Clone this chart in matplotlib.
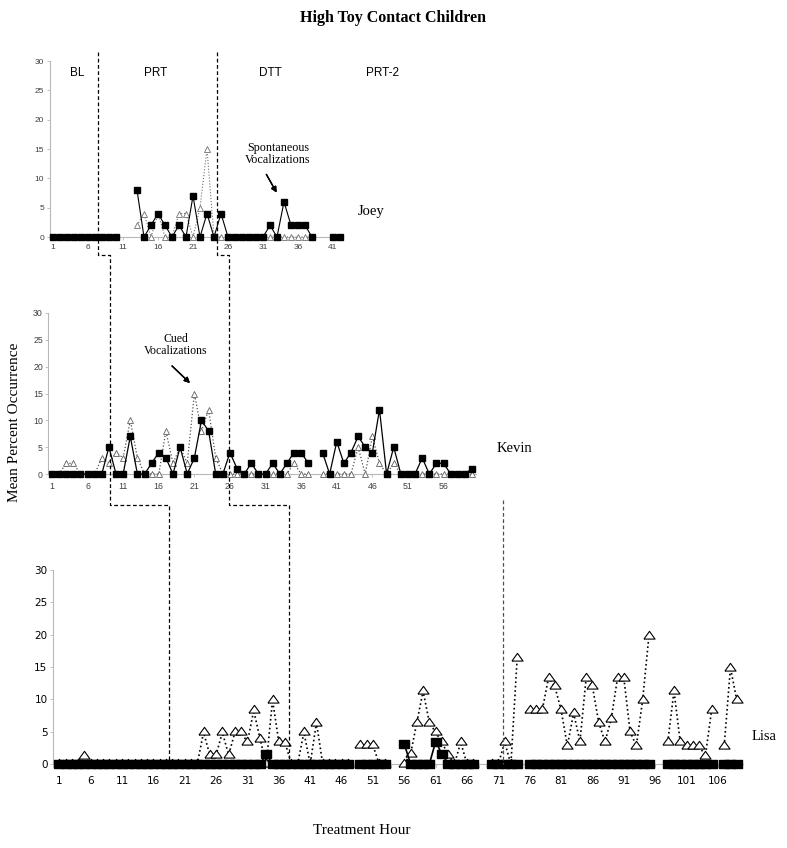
import numpy as np
import matplotlib.pyplot as plt
from matplotlib.lines import Line2D

nan = np.nan
W, H = 787, 848

# Joey (hours 1-42)
joey_hours = np.arange(1, 43)
joey_spont = [0, 0, 0, 0, 0, 0, 0, 0, 0, 0,
              nan, nan, 8, 0, 2, 4, 2, 0, 2, 0,
              7, 0, 4, 0, 4, 0, 0, 0, 0, 0,
              0, 2, 0, 6, 2, 2, 2, 0, nan, nan,
              0, 0]
joey_cued = [0, 0, 0, 0, 0, 0, 0, 0, 0, 0,
             nan, nan, 2, 4, 0, 4, 0, 0, 4, 4,
             0, 5, 15, 0, 0, 0, 0, 0, 0, 0,
             0, 0, 0, 0, 0, 0, 0, 0, nan, nan,
             0, 0]

# Kevin (hours 1-60)
kevin_hours = np.arange(1, 61)
kevin_spont = [0, 0, 0, 0, 0, 0, 0, 0, 5, 0,
               0, 7, 0, 0, 2, 4, 3, 0, 5, 0,
               3, 10, 8, 0, 0, 4, 1, 0, 2, 0,
               0, 2, 0, 2, 4, 4, 2, nan, 4, 0,
               6, 2, 4, 7, 5, 4, 12, 0, 5, 0,
               0, 0, 3, 0, 2, 2, 0, 0, 0, 1]
kevin_cued = [0, 0, 2, 2, 0, 0, 0, 3, 2, 4,
              3, 10, 3, 0, 0, 0, 8, 2, 5, 2,
              15, 8, 12, 3, 0, 0, 0, 0, 0, 0,
              0, 0, 0, 0, 2, 0, 0, nan, 0, 0,
              0, 0, 0, 5, 0, 7, 2, 0, 2, 0,
              0, 0, 0, 0, 0, 0, 0, 0, 0, 0]

# Lisa (hours 1-109)
lisa_hours = np.arange(1, 110)
lisa_spont = [0, 0, 0, 0, 0, 0, 0, 0, 0, 0,
              0, 0, 0, 0, 0, 0, 0, 0, 0, 0,
              0, 0, 0, 0, 0, 0, 0, 0, 0, 0,
              0, 0, 0, 1.5, 0, 0, 0, 0, 0, 0,
              0, 0, 0, 0, 0, 0, 0, nan, 0, 0,
              0, 0, 0, nan, nan, 3.1, 0, 0, 0, 0,
              3.45, 1.55, 0, 0, 0, 0, 0, nan, nan, 0,
              0, 0, 0, 0, nan, 0, 0, 0, 0, 0,
              0, 0, 0, 0, 0, 0, 0, 0, 0, 0,
              0, 0, 0, 0, 0, nan, nan, 0, 0, 0,
              0, 0, 0, 0, 0, nan, 0, 0, 0]
lisa_cued = [0, 0, 0, 0, 1.3, 0, 0, 0, 0, 0,
             0, 0, 0, 0, 0, 0, 0, 0, 0, 0,
             0, 0, 0, 4.9, 1.4, 1.4, 4.9, 1.4, 4.9, 4.9,
             3.35, 8.3, 3.9, 0, 9.9, 3.4, 3.3, 0, 0, 4.9,
             0, 6.4, 0, 0, 0, 0, 0, nan, 2.9, 2.9,
             2.9, 0, 0, nan, nan, 0, 1.5, 6.4, 11.3, 6.4,
             4.9, 3.35, 1.4, 0, 3.35, 0, 0, nan, nan, 0,
             0, 3.35, 0, 16.4, nan, 8.35, 8.35, 8.35, 13.35, 12,
             8.35, 2.8, 7.9, 3.45, 13.35, 12, 6.4, 3.45, 7, 13.35,
             13.35, 5, 2.8, 9.9, 19.8, nan, nan, 3.35, 11.3, 3.35,
             2.8, 2.8, 2.8, 1.25, 8.35, nan, 2.8, 14.9, 9.9]

# phase change hours for each child
joey_phase = [7.5, 24.5]
kevin_phase = [9.2, 25.9]
lisa_phase = [18.5, 37.6, 71.7]

phase_labels = ['BL', 'PRT', 'DTT', 'PRT-2']
phase_label_x = [4.4, 15.6, 32.1, 48.1]

SERIF = 'Liberation Serif'
SANS = 'Liberation Sans'


def px_axes(fig, left, right, y0, y30):
    return fig.add_axes([left / W, 1 - y0 / H, (right - left) / W, (y0 - y30) / H])


def style_axes(ax, xlim, xticks, fsize, fam, tcol, xpad):
    ax.set_xlim(*xlim)
    ax.set_ylim(0, 30)
    ax.set_yticks(range(0, 31, 5))
    ax.set_xticks(xticks)
    for s in ['top', 'right']:
        ax.spines[s].set_visible(False)
    for s in ['left', 'bottom']:
        ax.spines[s].set_color('#b8b8b8')
        ax.spines[s].set_linewidth(0.8)
    ax.tick_params(axis='y', length=2.5, width=0.6, color='#b8b8b8', pad=1.5)
    ax.tick_params(axis='x', length=2, width=0.6, color='#b8b8b8', pad=xpad)
    for lab in ax.get_xticklabels() + ax.get_yticklabels():
        lab.set_fontsize(fsize)
        lab.set_family(fam)
        lab.set_color(tcol)
    ax.patch.set_alpha(0)


fig = plt.figure(figsize=(W / 100, H / 100), dpi=100)

# ---- Joey
ax_j = px_axes(fig, 49.5, 343.5, 237, 61)
ax_j.plot(joey_hours, joey_cued, ls=':', color='#707070', lw=0.8, marker='^', ms=4,
          mfc='white', mec='#707070', mew=0.6, clip_on=False, zorder=3)
ax_j.plot(joey_hours, joey_spont, ls='-', color='black', lw=0.8, marker='s', ms=4,
          mfc='black', mec='black', clip_on=False, zorder=4)
style_axes(ax_j, (0.5, 42.5), range(1, 42, 5), 6, SANS, '#404040', 3)
for lab, x in zip(phase_labels, phase_label_x):
    ax_j.text(x, 27.9, lab, ha='center', va='center', fontsize=8.5, family=SANS, clip_on=False)

# ---- Kevin
ax_k = px_axes(fig, 48.4, 475.6, 474, 313)
ax_k.plot(kevin_hours, kevin_cued, ls=':', color='#505050', lw=0.9, marker='^', ms=5,
          mfc='white', mec='#606060', mew=0.6, clip_on=False, zorder=3)
ax_k.plot(kevin_hours, kevin_spont, ls='-', color='black', lw=0.9, marker='s', ms=5,
          mfc='black', mec='black', clip_on=False, zorder=4)
style_axes(ax_k, (0.5, 60.5), range(1, 57, 5), 6.3, SANS, '#404040', 4)

# ---- Lisa
rect = [(-1.4, -1), (1.4, -1), (1.4, 1), (-1.4, 1), (-1.4, -1)]
tri = [(-1.4, -0.65), (1.4, -0.65), (0, 1.3), (-1.4, -0.65)]
ax_l = px_axes(fig, 53, 743, 764, 570)
ax_l.plot(lisa_hours, lisa_cued, ls=':', color='black', lw=1.2, marker=tri, ms=8,
          mfc='white', mec='black', mew=0.8, clip_on=False, zorder=3)
ax_l.plot(lisa_hours, lisa_spont, ls='-', color='black', lw=1.2, marker=rect, ms=7.4,
          mfc='black', mec='black', clip_on=False, zorder=4)
style_axes(ax_l, (0, 110), range(1, 107, 5), 7.5, 'DejaVu Sans', 'black', 7)


# ---- phase change lines, stepped across the three panels
def fig_pt(ax, x, y):
    return fig.transFigure.inverted().transform(ax.transData.transform((x, y)))


joey_top, joey_elbow, kevin_elbow, lisa3_top = 31.5, -3.1, -5.8, 40.8
for xj, xk, xl in zip(joey_phase, kevin_phase, lisa_phase[:2]):
    pts = [fig_pt(ax_j, xj, joey_top), fig_pt(ax_j, xj, joey_elbow)]
    pts.append((fig_pt(ax_k, xk, 0)[0], pts[-1][1]))
    pts.append(fig_pt(ax_k, xk, kevin_elbow))
    pts.append((fig_pt(ax_l, xl, 0)[0], pts[-1][1]))
    pts.append(fig_pt(ax_l, xl, 0))
    pts = np.array(pts)
    fig.add_artist(Line2D(pts[:, 0], pts[:, 1], transform=fig.transFigure,
                          color='black', lw=0.9, ls=(0, (3, 2)), zorder=5))
p = np.array([fig_pt(ax_l, lisa_phase[2], lisa3_top), fig_pt(ax_l, lisa_phase[2], 0)])
fig.add_artist(Line2D(p[:, 0], p[:, 1], transform=fig.transFigure,
                      color='#505050', lw=0.9, ls=(0, (3, 2)), zorder=5))

# ---- texts
def ft(x, y, s, **kw):
    fig.text(x / W, 1 - y / H, s, **kw)


ft(393, 18, 'High Toy Contact Children', ha='center', va='center', fontsize=11.5,
   weight='bold', family=SERIF)
ft(278, 154, 'Spontaneous\nVocalizations', ha='center', va='center', fontsize=8.7,
   family=SERIF, linespacing=1.05)
ft(176, 345, 'Cued\nVocalizations', ha='center', va='center', fontsize=8.5,
   family=SERIF, linespacing=1.05)
ft(358, 211, 'Joey', ha='left', va='center', fontsize=10.5, family=SERIF)
ft(497, 448, 'Kevin', ha='left', va='center', fontsize=10.5, family=SERIF)
ft(752, 737, 'Lisa', ha='left', va='center', fontsize=10.5, family=SERIF)
ft(15, 422, 'Mean Percent Occurrence', ha='center', va='center', rotation=90,
   fontsize=11, family=SERIF)
ft(362, 830, 'Treatment Hour', ha='center', va='center', fontsize=11, family=SERIF)

arrow = dict(arrowstyle='-|>', color='black', lw=1.0, mutation_scale=8)
fig.add_artist(plt.annotate('', xy=(278 / W, 1 - 195 / H), xytext=(265 / W, 1 - 172 / H),
                            xycoords='figure fraction', textcoords='figure fraction',
                            arrowprops=arrow))
fig.add_artist(plt.annotate('', xy=(192 / W, 1 - 385 / H), xytext=(170 / W, 1 - 364 / H),
                            xycoords='figure fraction', textcoords='figure fraction',
                            arrowprops=arrow))

fig.savefig('out.png', dpi=100)
